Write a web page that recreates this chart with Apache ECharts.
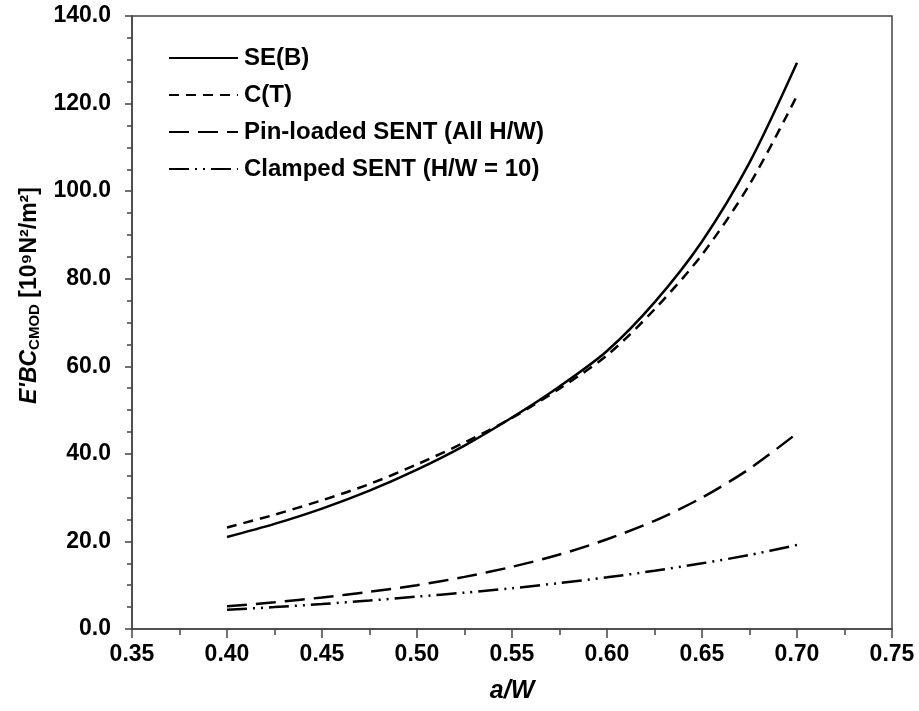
<!DOCTYPE html>
<html>
<head>
<meta charset="utf-8">
<script src="https://cdn.jsdelivr.net/npm/echarts@6/dist/echarts.min.js"></script>
<style>html,body{margin:0;padding:0;background:#fff;}#c{width:919px;height:711px;}</style>
</head>
<body>
<div id="c"></div>
<script>
// a/W values
var aw = [0.400, 0.425, 0.450, 0.475, 0.500, 0.525, 0.550, 0.575, 0.600, 0.625, 0.650, 0.675, 0.700];
// E'BC_CMOD values [10^9 N^2/m^2]
var seB        = [21.0, 24.0, 27.5, 31.6, 36.4, 41.9, 48.3, 55.4, 63.5, 74.6, 88.5, 106.5, 129.3];
var cT         = [23.2, 26.1, 29.4, 33.1, 37.6, 42.6, 48.2, 54.9, 62.5, 73.0, 85.5, 101.5, 121.8];
var pinSENT    = [5.2, 6.1, 7.2, 8.5, 10.0, 11.9, 14.2, 17.0, 20.5, 24.7, 30.0, 36.6, 44.7];
var clampSENT  = [4.4, 5.0, 5.7, 6.5, 7.4, 8.3, 9.3, 10.5, 11.8, 13.3, 15.0, 16.9, 19.2];
var seriesNames = ['SE(B)', 'C(T)', 'Pin-loaded SENT (All H/W)', 'Clamped SENT (H/W = 10)'];
var xTicks = {min: 0.35, max: 0.75, step: 0.05};
var yTicks = {min: 0, max: 140, step: 20};

function pairs(ys) { return aw.map(function (x, i) { return [x, ys[i]]; }); }

var FONT = 'Liberation Sans';
var dashes = ['solid', [10, 7], [20, 9], [20, 6, 2, 6, 2, 6]];
var allData = [seB, cT, pinSENT, clampSENT];

var chart = echarts.init(document.getElementById('c'), null, {renderer: 'canvas'});
chart.setOption({
  animation: false,
  backgroundColor: '#fff',
  grid: {left: 132, right: 27, top: 16, bottom: 82, show: true, borderColor: '#444', borderWidth: 1.5, backgroundColor: 'transparent'},
  legend: {
    orient: 'vertical', left: 168, top: 46, itemWidth: 69, itemHeight: 14, itemGap: 13, padding: 0,
    itemStyle: {opacity: 0},
    textStyle: {fontFamily: FONT, fontWeight: 'bold', fontSize: 24, color: '#000', padding: [0, 0, 0, 1]},
    data: seriesNames
  },
  xAxis: {
    type: 'value', min: xTicks.min, max: xTicks.max, interval: xTicks.step,
    name: 'a/W', nameLocation: 'middle', nameGap: 50,
    nameTextStyle: {fontFamily: FONT, fontWeight: 'bold', fontStyle: 'italic', fontSize: 25, color: '#000'},
    axisLine: {lineStyle: {color: '#444', width: 1.5}},
    axisTick: {inside: false, length: 9, lineStyle: {color: '#444', width: 1.5}},
    minorTick: {show: true, splitNumber: 2, length: 6, lineStyle: {color: '#444', width: 1.5}},
    splitLine: {show: false},
    axisLabel: {fontFamily: FONT, fontWeight: 'bold', fontSize: 23, color: '#000', margin: 14,
      formatter: function (v) { return v.toFixed(2); }}
  },
  yAxis: {
    type: 'value', min: yTicks.min, max: yTicks.max, interval: yTicks.step,
    name: "{i|E'BC}{s|CMOD}{n| [10⁹N²/m²]}", nameLocation: 'middle', nameGap: 90, nameRotate: 90,
    nameTextStyle: {
      padding: [0, 0, 0, 54],
      rich: {
        i: {fontFamily: FONT, fontWeight: 'bold', fontStyle: 'italic', fontSize: 23, color: '#000'},
        s: {fontFamily: FONT, fontWeight: 'bold', fontSize: 15, color: '#000', verticalAlign: 'bottom', padding: [9, 0, 0, 0]},
        n: {fontFamily: FONT, fontWeight: 'bold', fontSize: 23, color: '#000'}
      }
    },
    axisLine: {show: true, lineStyle: {color: '#444', width: 1.5}},
    axisTick: {show: true, inside: false, length: 7, lineStyle: {color: '#444', width: 1.5}},
    minorTick: {show: true, splitNumber: 4, length: 5, lineStyle: {color: '#444', width: 1.5}},
    splitLine: {show: false},
    axisLabel: {fontFamily: FONT, fontWeight: 'bold', fontSize: 23, color: '#000', margin: 21,
      formatter: function (v) { return v.toFixed(1); }}
  },
  series: seriesNames.map(function (n, k) {
    return {
      name: n, type: 'line', data: pairs(allData[k]), smooth: 0.3, symbol: 'none',
      lineStyle: {color: '#000', width: 2.5, type: dashes[k]},
      itemStyle: {color: '#000'}
    };
  })
});
</script>
</body>
</html>
